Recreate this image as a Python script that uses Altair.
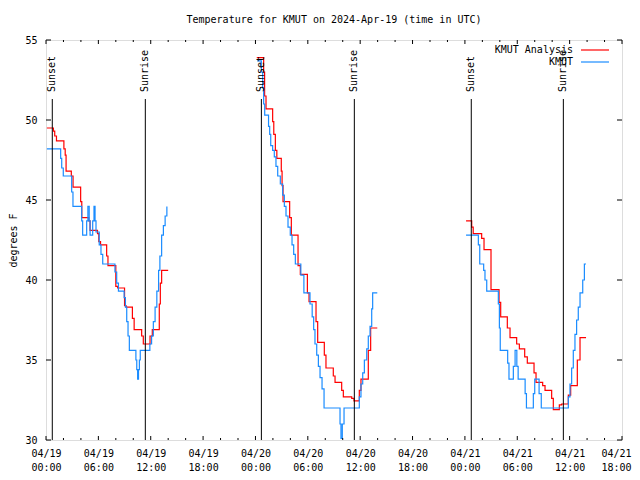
import json
import altair as alt
import pandas as pd

# ---------------- data (hours since 2024-04-19 00:00 UTC, deg F) ----------------
series_names = ["KMUT Analysis", "KMUT"]
series_colors = ["#ff0000", "#1a8cff"]

analysis_h1 = [0.1, 0.85, 1.0, 1.2, 2.05, 2.2, 2.3, 2.9, 3.1, 3.97, 4.1, 4.9, 5.05, 5.9, 6.05, 6.25,
               6.95, 7.1, 8.0, 8.2, 9.0, 9.17, 9.9, 10.1, 10.96, 11.15, 11.92, 12.18, 12.98, 13.1, 13.25, 14.0]
analysis_t1 = [49.5, 49.3, 49.0, 48.7, 48.2, 47.8, 46.8, 46.5, 45.8, 44.9, 43.9, 43.7, 43.1, 42.9, 42.4, 42.2,
               41.5, 40.9, 39.6, 39.5, 38.4, 38.3, 37.6, 36.9, 36.5, 36.0, 36.5, 36.9, 38.5, 39.8, 40.6, 40.6]

analysis_h2 = [24.15, 24.94, 25.05, 25.21, 25.97, 26.1, 26.28, 26.45, 26.96, 27.05, 27.16, 27.92, 28.11, 28.88,
               29.14, 29.95, 30.14, 30.94, 31.13, 31.89, 32.08, 32.92, 33.12, 33.88, 34.07, 35.03, 35.29, 35.9,
               36.09, 36.93, 37.2, 37.96]
analysis_t2 = [53.9, 53.0, 51.5, 50.7, 49.9, 49.1, 48.1, 47.6, 46.8, 45.9, 44.9, 43.9, 42.8, 40.9,
               40.35, 39.2, 38.65, 37.4, 36.1, 35.3, 34.5, 34.0, 33.6, 33.1, 32.7, 32.6, 32.45, 33.1,
               33.8, 35.6, 37.0, 37.0]

analysis_h3 = [48.13, 48.78, 48.95, 49.92, 50.19, 50.99, 51.91, 52.1, 52.86, 53.17, 53.93, 54.24, 54.85, 55.15,
               55.92, 56.15, 56.91, 57.18, 57.94, 58.13, 58.82, 59.09, 59.85, 60.12, 60.88, 61.19, 61.88]
analysis_t3 = [43.7, 43.3, 42.9, 42.6, 41.9, 39.4, 38.6, 37.7, 37.0, 36.4, 36.0, 35.7, 35.2, 34.8,
               34.2, 33.6, 33.4, 33.1, 32.6, 31.9, 32.2, 32.25, 32.8, 33.4, 35.0, 36.4, 36.4]

obs_h1 = [0.1, 1.68, 1.8, 1.98, 2.94, 3.09, 4.09, 4.2, 4.66, 4.8, 4.95, 5.05, 5.35, 5.5, 5.62, 5.73,
          6.1, 6.3, 6.5, 7.9, 8.1, 8.3, 8.95, 9.1, 9.25, 9.4, 9.55, 10.3, 10.4, 10.5, 10.6, 10.7,
          10.8, 11.9, 12.1, 12.3, 12.5, 12.7, 12.9, 13.05, 13.25, 13.45, 13.65, 13.85]
obs_t1 = [48.2, 47.6, 47.0, 46.5, 45.5, 44.6, 43.7, 42.8, 43.7, 44.6, 43.7, 42.8, 43.7, 44.6, 43.7, 43.0,
          42.2, 41.6, 41.0, 40.5, 39.8, 39.3, 38.9, 38.3, 37.4, 36.5, 35.6, 35.0, 34.4, 33.8, 34.4, 35.0,
          35.6, 36.0, 36.5, 37.4, 38.3, 39.3, 40.6, 41.5, 42.8, 43.4, 44.0, 44.6]

obs_h2 = [24.2, 24.67, 24.83, 24.94, 25.06, 25.5, 25.63, 25.75, 25.97, 26.16, 26.35, 26.55, 26.85, 27.12,
          27.31, 27.5, 27.73, 27.99, 28.19, 28.38, 28.57, 29.2, 29.55, 30.25, 30.5, 30.67, 30.82, 31.02,
          31.21, 31.4, 31.63, 31.86, 33.69, 33.8, 33.95, 34.15, 35.9, 36.09, 36.29, 36.48, 36.75, 36.93,
          37.13, 37.32, 37.43, 37.96]
obs_t2 = [53.7, 53.0, 52.0, 51.0, 50.3, 49.6, 49.1, 48.4, 48.1, 47.7, 47.1, 46.5, 46.0, 45.3,
          44.6, 44.0, 43.3, 42.8, 42.2, 41.6, 41.0, 40.3, 39.2, 38.5, 37.7, 36.9, 36.0, 35.3,
          34.6, 33.9, 33.2, 32.0, 31.0, 30.1, 31.0, 32.0, 32.7, 33.5, 34.2, 35.0, 35.7, 36.5,
          37.1, 38.2, 39.2, 39.2]

obs_h3 = [48.13, 49.54, 49.7, 50.15, 50.3, 50.5, 51.83, 51.95, 52.05, 52.9, 53.05, 53.55, 53.75, 53.95,
          54.1, 54.9, 55.05, 55.84, 56.0, 56.5, 56.75, 59.85, 60.04, 60.23, 60.42, 60.61, 60.8, 60.99,
          61.19, 61.5, 61.69, 61.88]
obs_t3 = [42.8, 42.2, 41.0, 40.6, 40.0, 39.3, 38.5, 37.0, 35.6, 34.8, 33.8, 34.6, 35.6, 34.6,
          33.8, 32.9, 32.0, 32.9, 33.8, 32.9, 32.0, 32.7, 33.5, 34.5, 35.6, 36.6, 37.5, 38.3,
          39.2, 40.0, 41.0, 41.0]

event_hours = [0.72, 11.38, 24.68, 35.33, 48.73, 59.28]
event_labels = ["Sunset", "Sunrise", "Sunset", "Sunrise", "Sunset", "Sunrise"]

x_major = list(range(0, 67, 6))
x_minor = [h for h in range(0, 67, 2) if h % 6 != 0]
x_tick_labels = ["04/19 00:00", "04/19 06:00", "04/19 12:00", "04/19 18:00",
                 "04/20 00:00", "04/20 06:00", "04/20 12:00", "04/20 18:00",
                 "04/21 00:00", "04/21 06:00", "04/21 12:00", "04/21 18:00"]
y_ticks = [30, 35, 40, 45, 50, 55]

title_text = "Temperature for KMUT on 2024-Apr-19 (time in UTC)"
y_title = "degrees F"

FONT = "DejaVu Sans Mono"

# ---------------- build tables ----------------
rows = []
for name, segs in [
    (series_names[0], [(analysis_h1, analysis_t1), (analysis_h2, analysis_t2), (analysis_h3, analysis_t3)]),
    (series_names[1], [(obs_h1, obs_t1), (obs_h2, obs_t2), (obs_h3, obs_t3)]),
]:
    for i, (hs, ts) in enumerate(segs):
        for h, t in zip(hs, ts):
            rows.append({"series": name, "seg": f"{name}-{i}", "hour": h, "temp": t})
df = pd.DataFrame(rows)

events = pd.DataFrame({"hour": event_hours, "label": event_labels})
major_df = pd.DataFrame({"hour": x_major})
minor_df = pd.DataFrame({"hour": x_minor})
ytick_df = pd.DataFrame({"temp": y_ticks})
one = pd.DataFrame({"a": [0]})

x_scale = alt.Scale(domain=[0, 66], nice=False, zero=False)
y_scale = alt.Scale(domain=[30, 55], nice=False, zero=False)

label_expr = f"split({json.dumps(x_tick_labels)}[round(datum.value / 6)], ' ')"
last_x = x_major[-1]

x_axis = alt.Axis(values=x_major, labelExpr=label_expr, ticks=False, domain=False, grid=False,
                  title=None, labelFont=FONT, labelFontSize=10, labelColor="black",
                  labelPadding=8, labelLineHeight=14, labelFlush=False, labelOverlap=False,
                  labelBound=False,
                  labelAlign={"condition": {"test": f"datum.value == {last_x}", "value": "right"},
                              "value": "center"},
                  labelOffset={"condition": {"test": f"datum.value == {last_x}", "value": 9},
                               "value": 0})
y_axis = alt.Axis(values=y_ticks, ticks=False, domain=False, grid=False, title=y_title,
                  labelFont=FONT, labelFontSize=10, labelColor="black", labelPadding=9,
                  titleFont=FONT, titleFontSize=10, titleFontWeight="normal", titleColor="black",
                  titlePadding=6)

X = lambda: alt.X("hour:Q", scale=x_scale, axis=x_axis)
Y = lambda: alt.Y("temp:Q", scale=y_scale, axis=y_axis)

lines = alt.Chart(df).mark_line(interpolate="step-after", strokeWidth=1.2).encode(
    x=X(), y=Y(),
    color=alt.Color("series:N", scale=alt.Scale(domain=series_names, range=series_colors), legend=None),
    detail="seg:N",
)

ev_rules = alt.Chart(events).mark_rule(color="black", strokeWidth=1).encode(
    x=X(), y=alt.value(59), y2=alt.value(400))
ev_text = alt.Chart(events).mark_text(angle=270, align="left", baseline="middle", font=FONT,
                                      fontSize=10, color="black").encode(
    x=X(), y=alt.value(52), text="label:N")

def xticks(data, y0, y1):
    return alt.Chart(data).mark_rule(color="black", strokeWidth=1).encode(
        x=X(), y=alt.value(y0), y2=alt.value(y1))

def yticks(x0, x1):
    return alt.Chart(ytick_df).mark_rule(color="black", strokeWidth=1).encode(
        y=Y(), x=alt.value(x0), x2=alt.value(x1))

tick_layers = [xticks(major_df, 400, 396), xticks(minor_df, 400, 398),
               xticks(major_df, 0, 4), xticks(minor_df, 0, 2),
               yticks(0, 5), yticks(571, 576)]

legend_layers = []
for i, (nm, col) in enumerate(zip(series_names, series_colors)):
    ypix = 10 + 12 * i
    legend_layers.append(alt.Chart(one).mark_text(align="right", baseline="middle", font=FONT,
                                                  fontSize=10, color="black").encode(
        x=alt.value(527), y=alt.value(ypix), text=alt.value(nm)))
    legend_layers.append(alt.Chart(one).mark_rule(color=col, strokeWidth=1.2).encode(
        x=alt.value(535), x2=alt.value(563), y=alt.value(ypix)))

chart = alt.layer(lines, ev_rules, ev_text, *tick_layers, *legend_layers).properties(
    width=576, height=400,
    title=alt.TitleParams(title_text, font=FONT, fontSize=10, fontWeight="normal", color="black",
                          anchor="middle", offset=10),
    autosize=alt.AutoSizeParams(type="none"),
    padding={"left": 38, "top": 32, "right": 10, "bottom": 40},
).configure_view(stroke="black", strokeWidth=1).configure(background="white")

chart.save("out.html", embed_options={"renderer": "svg", "actions": False})
